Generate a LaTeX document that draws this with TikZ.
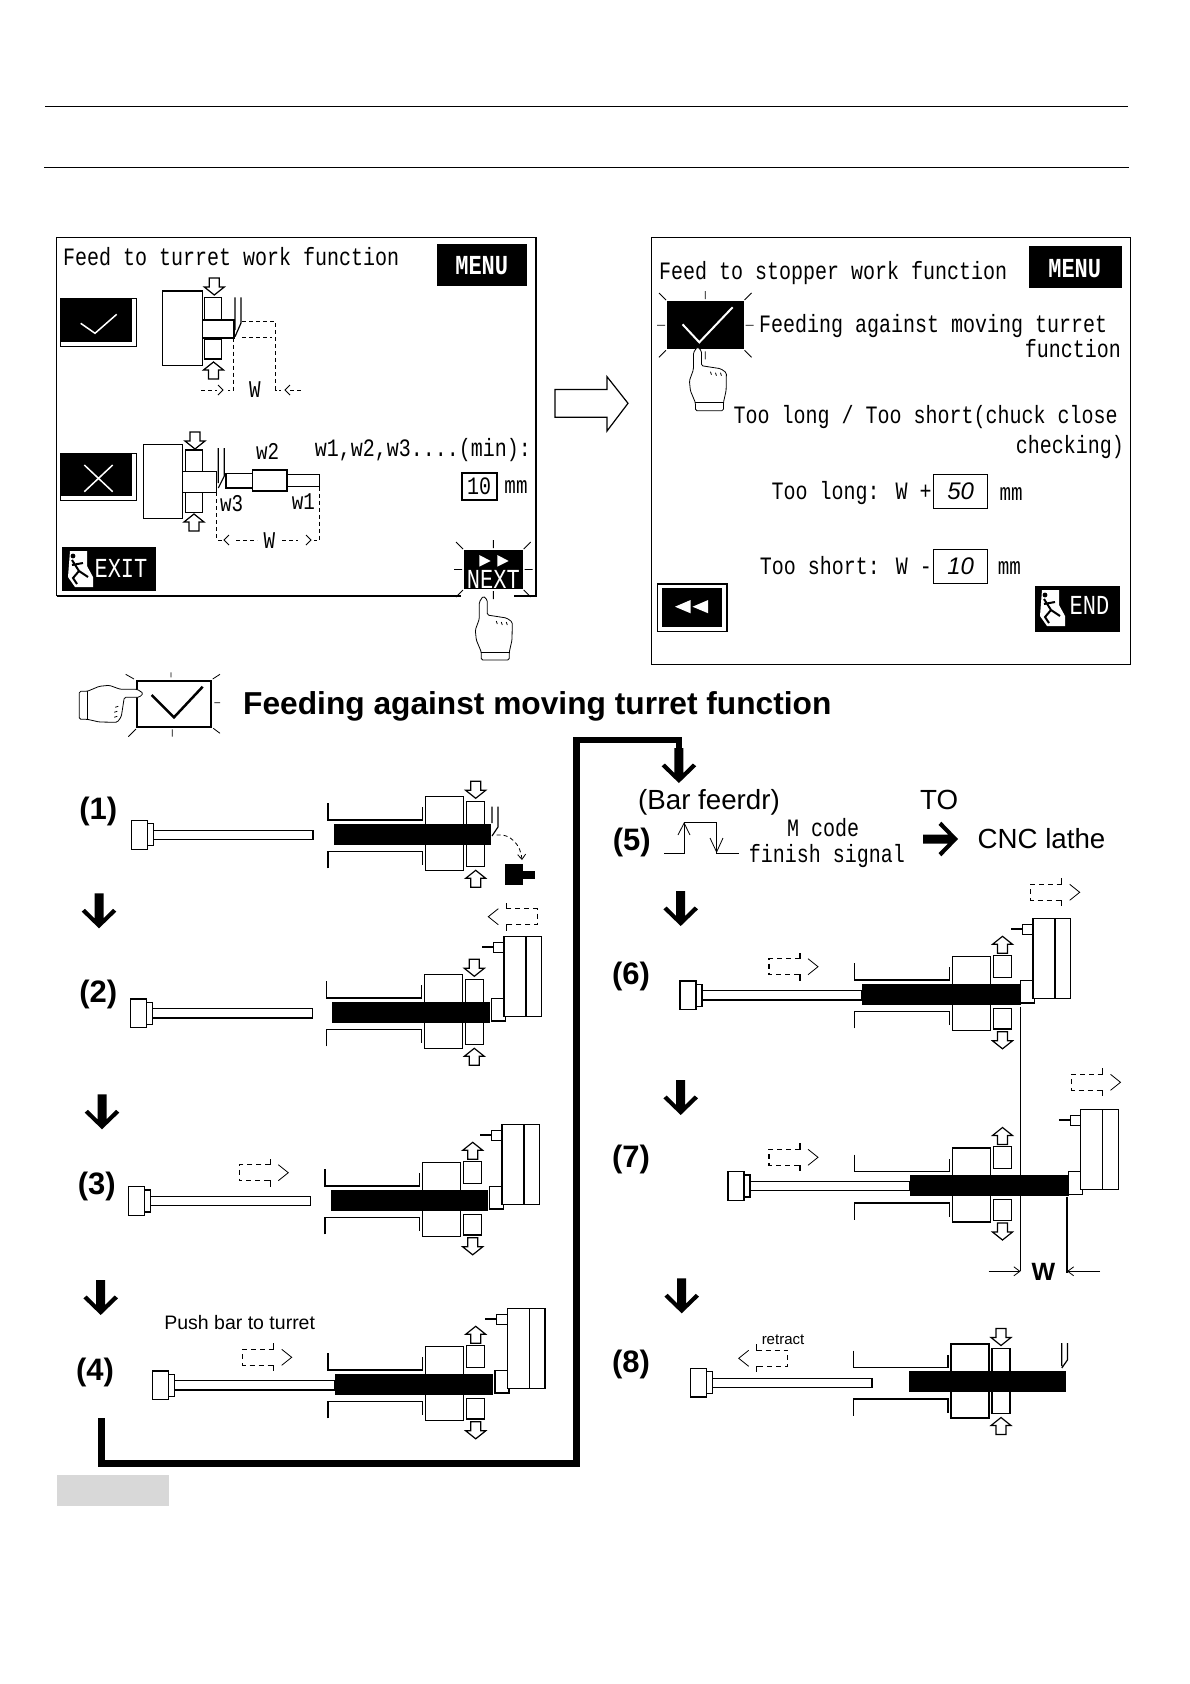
\documentclass[tikz,border=0pt]{standalone}
\usepackage{fontspec}
\setmainfont{Liberation Sans}
\newfontfamily\screenfont[FakeStretch=0.8]{Liberation Mono}
\usepackage{xcolor}
\usetikzlibrary{arrows.meta,positioning,calc}
\definecolor{blankgray}{HTML}{D8D8D8}

% small outlined arrow on a chuck jaw
\newcommand{\jawarrow}[3]{%
  \draw[ln,fill=white,shift={(#1,#2)},rotate=#3]
    (-5,-8) -- (5,-8) -- (5,1) -- (10,1) -- (0,9) -- (-10,1) -- (-5,1) -- cycle;}
% dashed move arrow, #3 = 1 right, -1 left
\newcommand{\movearrow}[3]{%
  \draw[ln,dash pattern=on 5pt off 4pt,shift={(#1,#2)},xscale=#3]
    (31,-8) -- (0,-8) -- (0,8) -- (31,8);
  \draw[ln,shift={(#1,#2)},xscale=#3] (26,-8) -- (31,-8) -- (31,-14) (26,8) -- (31,8) -- (31,14);
  \draw[thinln,shift={(#1,#2)},xscale=#3] (39,-8) -- (49,0) -- (39,8);}
% black flow arrow
\newcommand{\flowarrow}[3]{%
  \fill[shift={(#1,#2)},rotate=#3] (-4.5,0) -- (4.5,0) -- (4.5,25) -- (14,15.5) -- (17.3,18.3)
    -- (0,35) -- (-17.3,18.3) -- (-14,15.5) -- (-4.5,25) -- cycle;}
% spindle guards and chuck body
\newcommand{\chuckbody}[2]{%
  \begin{scope}[shift={(#1,#2)}]
    \draw[ln] (-97.7,-31) -- (-97.7,-14.3) -- (-3,-14.3) -- (-3,-27);
    \draw[ln] (-97.7,34) -- (-97.7,17.4) -- (-3,17.4) -- (-3,31);
    \draw[ln] (0,-37.5) rectangle (38,36.5);
  \end{scope}}
\newcommand{\jawsclosed}[2]{%
  \begin{scope}[shift={(#1,#2)}]
    \draw[ln] (41,-32.7) rectangle (59,-9);
    \draw[ln] (41,9) rectangle (59,32.3);
    \jawarrow{50}{-45}{0}
    \jawarrow{50}{45}{180}
  \end{scope}}
\newcommand{\jawsopen}[2]{%
  \begin{scope}[shift={(#1,#2)}]
    \draw[ln] (41,-38.7) rectangle (59,-17);
    \draw[ln] (41,14) rectangle (59,34.7);
    \jawarrow{50}{-49}{180}
    \jawarrow{50}{45.5}{0}
  \end{scope}}
% black work piece from #1 to #3
\newcommand{\workbar}[3]{\fill (#1,#2-10.3) rectangle (#3,#2+10.3);}
% bar feeder from #1 to #3
\newcommand{\feederunit}[3]{%
  \begin{scope}[shift={(#1,#2)}]
    \draw[ln,fill=white] (0,-14.3) rectangle (16,14.3);
    \draw[ln,fill=white] (16,-11) rectangle (22,11);
    \draw[ln] (22,-4.6) rectangle (#3-#1,4.6);
  \end{scope}}
% turret with tool
\newcommand{\turretunit}[2]{%
  \begin{scope}[shift={(#1,#2)}]
    \draw[ln,fill=white] (1.7,-14) rectangle (15.7,8.7);
    \draw[ln,fill=white] (14,-75.7) rectangle (51.7,4.3);
    \draw[ln] (36,-75.7) -- (36,4.3);
    \draw[ln,fill=white] (3.3,-69.7) rectangle (14,-60);
    \draw[line width=1.8pt] (-8,-65.7) -- (3.3,-65.7);
  \end{scope}}
% pointing hand, finger tip at #1,#2
\newcommand{\handicon}[3]{%
  \begin{scope}[shift={(#1,#2)},rotate=#3]
    \draw[thinln,fill=white,rounded corners=1.5pt] (-4,6) -- (-4,23) -- (-8,34) -- (-7,44) -- (-2,56) -- (-2,64)
      -- (26,64) -- (26,56) -- (28.7,44) -- (29,26) -- (23.3,22) -- (4,19) -- (4,4) -- (0,0) -- cycle;
    \draw[thinln] (-2,56) -- (26,56);
    \draw[thinln] (13,25) -- (14,28) (18,26) -- (19,29) (23,26) -- (24,29);
  \end{scope}}
% running man on a black button
\newcommand{\runnericon}[2]{%
  \begin{scope}[shift={(#1,#2)}]
    \fill[white] (5,0) -- (22,0) -- (22,15) -- (28,26) -- (28,36) -- (10,36) -- (3,26) -- cycle;
    \fill (8,5) circle (2.4);
    \draw[line width=2pt] (7,9) -- (14,20) -- (23,26) (14,20) -- (8,27) -- (12,33) (7,14) -- (18,12);
  \end{scope}}
% rays round a pressed key, #1..#4 = box
\newcommand{\raysround}[4]{%
  \draw[thinln] ({(#1+#3)/2},#2-10) -- ({(#1+#3)/2},#2-2) ({(#1+#3)/2},#4+2) -- ({(#1+#3)/2},#4+10)
    (#1-10,{(#2+#4)/2}) -- (#1-2,{(#2+#4)/2}) (#3+2,{(#2+#4)/2}) -- (#3+10,{(#2+#4)/2})
    (#1-8,#2-8) -- (#1-1,#2-1) (#3+8,#2-8) -- (#3+1,#2-1)
    (#1-8,#4+8) -- (#1-1,#4+1) (#3+8,#4+8) -- (#3+1,#4+1);}

\begin{document}
\begin{tikzpicture}[
    x=1pt,y=-1pt,
    every node/.style={inner sep=0pt},
    ln/.style={line width=1.2pt},
    thinln/.style={line width=0.8pt},
    scr/.style={font=\screenfont\fontsize{25}{27}\selectfont},
    scrsm/.style={font=\screenfont\fontsize{24}{27}\selectfont},
    btn/.style={text=white,font=\screenfont\fontsize{27.5}{29}\selectfont},
    btnb/.style={text=white,font=\screenfont\bfseries\fontsize{27.5}{29}\selectfont},
    stepnum/.style={font=\bfseries\fontsize{31}{32}\selectfont},
    plain/.style={font=\fontsize{27.7}{30}\selectfont},
    valbox/.style={font=\itshape\fontsize{24}{26}\selectfont},
    dim/.style={thinln,dash pattern=on 4pt off 3pt},
    tipo/.style={-{Straight Barb[length=6pt,width=9pt]},thinln},
  ]
  \useasboundingbox (0,0) rectangle (1190,1684);

  % page rules
  \draw[thinln] (45,106.3) -- (1128,106.3);
  \draw[thinln] (44,167.5) -- (1129,167.5);

  % left screen
  \draw[thinln] (56.7,596) -- (56.7,237.3) -- (536,237.3);
  \draw[line width=1.6pt] (536,237.3) -- (536,596) -- (514,596);
  \draw[line width=1.6pt] (461,596) -- (56.7,596);
  \node[scr,anchor=west] (titleleft) at (63,256.7) {Feed to turret work function};
  \fill (436.7,244) rectangle (526.7,285.7);
  \node[btnb] (menuleft) at (481.7,266) {MENU};

  \draw[thinln] (60,298.3) rectangle (136.7,346);
  \fill (60,298.3) rectangle (132,341.5);
  \draw[white,line width=1.5pt] (80.7,323.3) -- (95,333.3) -- (116.7,314.3);
  \draw[thinln] (60,453.3) rectangle (136.7,500.7);
  \fill (60,453.3) rectangle (132,496);
  \draw[white,line width=1.5pt] (84.3,465) -- (112.7,491.7) (112.7,465) -- (84.3,491.7);

  % turret sketch, top
  \draw[ln] (162.7,291) rectangle (202.3,365.3);
  \draw[ln] (204.3,297.3) rectangle (221.7,319.3);
  \draw[ln] (204.3,339) rectangle (221.7,359);
  \draw[line width=1.6pt] (202.3,320) rectangle (234,337.7);
  \jawarrow{214.3}{286}{0}
  \jawarrow{213.5}{371}{180}
  \draw[ln] (235,297.3) -- (235,330) (241,297.3) -- (241,323) -- (235,336.7);
  \draw[dim] (242.3,321.7) -- (275.7,321.7) -- (275.7,390) -- (281,390);
  \draw[dim] (242.3,337.7) -- (272,337.7);
  \draw[dim] (233.7,337.7) -- (233.7,390) -- (228,390);
  \draw[dim] (201,390) -- (217,390);
  \draw[dim] (290,390) -- (303,390);
  \draw[thinln] (218,385) -- (223,390) -- (218,395) (290,385) -- (285,390) -- (290,395);
  \node[scrsm] (wtop) at (255,390) {W};

  % turret sketch, bottom
  \draw[ln] (143.3,444.3) rectangle (182.7,518.3);
  \draw[ln] (185.7,450) rectangle (202.3,471.7);
  \draw[ln] (185.7,492.3) rectangle (202.3,512.3);
  \draw[ln] (182.7,471.7) rectangle (216.7,492.3);
  \jawarrow{195}{440}{0}
  \jawarrow{194}{523}{180}
  \draw[ln] (218.3,448) -- (218.3,483) (224.3,448) -- (224.3,476) -- (218.3,488);
  \draw[line width=1.6pt] (225.7,473.3) rectangle (252.3,487.7);
  \draw[line width=1.6pt] (252.3,470) rectangle (286.7,491);
  \draw[ln] (286.7,474.3) rectangle (319.3,486.7);
  \node[scrsm] (wtwo) at (267.7,451.7) {w2};
  \node[scrsm] (wthree) at (231.7,503.3) {w3};
  \node[scrsm] (wone) at (303.3,501.7) {w1};
  \draw[dim] (216.7,492.3) -- (216.7,540) -- (222,540);
  \draw[dim] (319.3,486.7) -- (319.3,540) -- (314,540);
  \draw[dim] (236,540) -- (257,540);
  \draw[dim] (282,540) -- (298,540);
  \draw[thinln] (229,535) -- (224,540) -- (229,545) (306,535) -- (311,540) -- (306,545);
  \node[scrsm] (wbot) at (269.3,540.7) {W};

  \node[scr,anchor=east] (minlabel) at (531,450) {w1,w2,w3....(min):};
  \node[draw,line width=1.6pt,minimum width=35pt,minimum height=27pt,scr] (minbox) at (479.2,486.4) {10};
  \node[scrsm] (minunit) at (516,487) {mm};

  \fill (62,547.3) rectangle (156,590.7);
  \runnericon{65}{551}
  \node[btn] (exitbtn) at (121,568.3) {EXIT};

  \raysround{464}{550}{522.7}{589}
  \fill (464,550) rectangle (522.7,589);
  \fill[white] (479.3,555) -- (479.3,566.7) -- (490.7,561) -- cycle;
  \fill[white] (497.3,555) -- (497.3,566.7) -- (508.7,561) -- cycle;
  \node[btn] (nextbtn) at (493.3,579) {NEXT};
  \handicon{483.3}{596}{0}

  % arrow between the screens
  \draw[ln] (554.9,389.5) -- (607,389.5) -- (607,376.7) -- (628,403.3) -- (607,431) -- (607,417.3) -- (554.9,417.3) -- cycle;

  % right screen
  \draw[line width=1pt] (651,237.3) rectangle (1130.5,664.3);
  \node[scr,anchor=west] (titleright) at (659,273.3) {Feed to stopper work function};
  \fill (1029,246) rectangle (1121.7,288.3);
  \node[btnb] (menuright) at (1074.7,268.3) {MENU};

  \raysround{667}{301}{743.5}{349.3}
  \fill (667,301) rectangle (743.5,349.3);
  \draw[white,line width=2pt] (682.5,324.3) -- (699.3,342.3) -- (732.6,307.3);
  \handicon{697.4}{346.7}{0}

  \node[scr,anchor=west] (movinglabel) at (759,326.3) {Feeding against moving turret};
  \node[scr,anchor=east] (movingend) at (1121,348.3) {function};
  \node[scr,anchor=west] (checklabel) at (733.5,417) {Too long / Too short(chuck close};
  \node[scr,anchor=east] (checkend) at (1124,447) {checking)};

  \node[scr,anchor=west] (longlabel) at (771.5,492.7) {Too long: W +};
  \node[draw,thinln,minimum width=54pt,minimum height=34pt,valbox] (longbox) at (960.7,491.3) {50};
  \node[scrsm] (longunit) at (1011.2,494) {mm};
  \node[scr,anchor=west] (shortlabel) at (759.7,565.7) {Too short: W -};
  \node[draw,thinln,minimum width=54pt,minimum height=34pt,valbox] (shortbox) at (960.7,566.3) {10};
  \node[scrsm] (shortunit) at (1009.3,568.3) {mm};

  \draw[ln] (657.3,584) rectangle (727,631.7);
  \fill (662,588.3) rectangle (722,627.3);
  \fill[white] (690.6,600) -- (690.6,613.3) -- (675,606.7) -- cycle;
  \fill[white] (708.2,600) -- (708.2,613.3) -- (692.5,606.7) -- cycle;

  \fill (1034.5,585.7) rectangle (1119.7,631.7);
  \runnericon{1037}{590}
  \node[btn] (endbtn) at (1089.5,605) {END};

  % heading
  \draw[line width=2pt] (137.3,681) rectangle (211,726.7);
  \draw[line width=2.5pt] (151.7,695) -- (174,717.3) -- (202.7,686.7);
  \draw[thinln] (171,672.3) -- (171,677.3) (172.3,729.3) -- (172.3,736.7) (214.3,702.7) -- (220,702.7)
    (125.7,674.3) -- (134,679) (220,674.3) -- (212.7,679) (128.3,736.7) -- (136,729) (220,733.3) -- (213.3,728.3);
  \handicon{143.3}{693.3}{-90}
  \node[anchor=west,font=\bfseries\fontsize{31.7}{33}\selectfont] (heading) at (243,706) {Feeding against moving turret function};

  % stage 1
  \node[stepnum] (stepone) at (98.3,811) {(1)};
  \feederunit{131.7}{834.8}{313}
  \chuckbody{425.7}{834.3}
  \jawsclosed{425.7}{834.3}
  \workbar{334}{834.3}{491}
  \draw[ln] (492,806.7) -- (492,823) (498,806.7) -- (498,827) -- (492,836);
  \draw[thinln,dash pattern=on 4pt off 3pt,-{Straight Barb[length=5pt,width=8pt]}] (496.7,835) .. controls (510,833) and (521,845) .. (522,860);
  \fill (505,864) rectangle (523.3,885);
  \fill (523.3,870.7) rectangle (535,879);
  \flowarrow{99}{893.3}{0}

  % stage 2
  \node[stepnum] (steptwo) at (98.3,994) {(2)};
  \feederunit{130.7}{1013.3}{312.3}
  \chuckbody{424.3}{1012.3}
  \jawsclosed{424.3}{1012.3}
  \turretunit{490}{1012.3}
  \workbar{332.3}{1012.3}{490}
  \movearrow{537.3}{916.7}{-1}
  \flowarrow{102}{1094.3}{0}

  % stage 3
  \node[stepnum] (stepthree) at (96.7,1186) {(3)};
  \feederunit{128.3}{1201}{310.7}
  \chuckbody{422.7}{1200.3}
  \jawsopen{422.7}{1200.3}
  \turretunit{488}{1200.3}
  \workbar{331}{1200.3}{488}
  \movearrow{239.3}{1172.7}{1}
  \flowarrow{100.7}{1280}{0}

  % stage 4
  \node[stepnum] (stepfour) at (95,1372.7) {(4)};
  \node[font=\fontsize{19.5}{21}\selectfont] (pushlabel) at (239.7,1322.3) {Push bar to turret};
  \feederunit{152.3}{1385.3}{335}
  \chuckbody{425.7}{1384.3}
  \jawsopen{425.7}{1384.3}
  \turretunit{493.3}{1384.3}
  \workbar{335}{1384.3}{493.3}
  \movearrow{242.7}{1357.3}{1}

  % link from (4) to (5)
  \coordinate (linkstart) at (101.7,1418.3);
  \coordinate (linkbottom) at (576.5,1463.3);
  \coordinate (linktop) at (576.5,740);
  \coordinate (linkend) at (678.9,752);
  \draw[line width=6.5pt,line join=miter] (linkstart) |- (linkbottom) -- (linktop) -| (linkend);
  \flowarrow{678.9}{748}{0}

  % stage 5
  \node[plain] (feederlabel) at (709,802) {(Bar feerdr)};
  \node[plain] (tolabel) at (939.2,800) {TO};
  \node[stepnum] (stepfive) at (631.8,842.5) {(5)};
  \draw[ln] (664,853.3) -- (684.1,853.3) -- (684.1,822.7) -- (716.6,822.7) -- (716.6,853.3) -- (738.5,853.3);
  \draw[thinln] (678,835) -- (684.1,823) -- (690,835) (710,838) -- (716.6,852) -- (723,838);
  \node[scr] (mcode) at (823,828) {M code};
  \node[scr] (finishlabel) at (827,856) {finish signal};
  \flowarrow{923}{839}{90}
  \node[plain] (cnclabel) at (1041.5,839) {CNC lathe};
  \flowarrow{680.7}{891}{0}

  % stage 6
  \node[stepnum] (stepsix) at (631,976) {(6)};
  \feederunit{680}{995.3}{861.5}
  \chuckbody{952.5}{994.3}
  \jawsopen{952.5}{994.3}
  \turretunit{1019}{994.3}
  \workbar{861.5}{994.3}{1020.5}
  \movearrow{1030.7}{892.3}{1}
  \movearrow{769}{966.7}{1}
  \flowarrow{680.7}{1080}{0}

  % stage 7
  \coordinate (wleft) at (1020.5,1271.3);
  \coordinate (wright) at (1067,1271.3);
  \node[stepnum] (stepseven) at (631,1159) {(7)};
  \feederunit{728}{1186}{909.5}
  \chuckbody{952.5}{1185.5}
  \jawsopen{952.5}{1185.5}
  \turretunit{1066.8}{1185.5}
  \draw[thinln] (1020.5,1006.7) -- (wleft);
  \workbar{909.5}{1185.5}{1068.8}
  \movearrow{1071.5}{1082.3}{1}
  \movearrow{769}{1157.3}{1}
  \draw[ln] (1067,1196.7) -- (1067,1273.3);
  \draw[tipo] (988.5,1271.3) -- (wleft);
  \draw[tipo] (1100,1271.3) -- (wright);
  \node[font=\bfseries\fontsize{25}{27}\selectfont] (wdim) at (1043.5,1271.7) {W};
  \flowarrow{681.7}{1278.3}{0}

  % stage 8
  \node[stepnum] (stepeight) at (631,1364) {(8)};
  \feederunit{690.7}{1382.7}{872}
  \chuckbody{951}{1381.5}
  \jawsclosed{951}{1381.5}
  \workbar{908.5}{1381.5}{1066}
  \draw[ln] (1061.8,1343) -- (1061.8,1366) (1067.4,1343) -- (1067.4,1360) -- (1061.8,1368);
  \movearrow{787.7}{1358.3}{-1}
  \node[font=\fontsize{15}{16}\selectfont] (retractlabel) at (783,1340) {retract};

  % blank field
  \fill[blankgray] (57,1475) rectangle (169,1506);
\end{tikzpicture}
\end{document}
